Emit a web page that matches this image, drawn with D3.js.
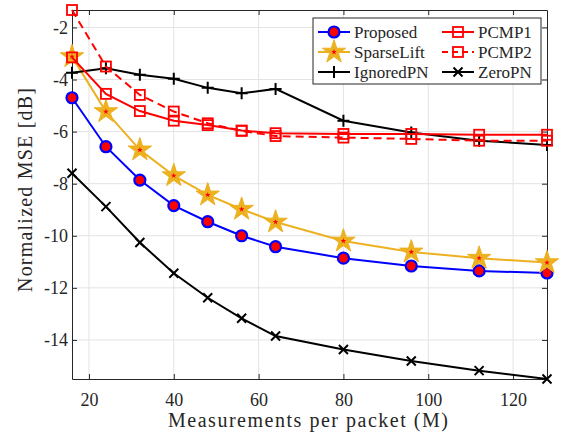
<!DOCTYPE html>
<html>
<head>
<meta charset="utf-8">
<script src="https://cdn.jsdelivr.net/npm/d3@7"></script>
<style>
  body { margin: 0; background: #fff; }
  text { font-family: "Liberation Serif", "DejaVu Serif", serif; fill: #262626; }
</style>
</head>
<body>
<div id="chart"></div>
<script>
// measurements per packet (M)
var mValues = [16, 24, 32, 40, 48, 56, 64, 80, 96, 112, 128];

// normalized MSE in dB
var proposed = [-4.7, -6.58, -7.86, -8.84, -9.46, -10.0, -10.42, -10.86, -11.16, -11.35, -11.43];
var sparseLift = [-3.12, -5.23, -6.7, -7.69, -8.43, -8.98, -9.47, -10.2, -10.62, -10.86, -11.03];
var ignoredPN = [-3.74, -3.57, -3.82, -3.97, -4.32, -4.53, -4.36, -5.58, -6.03, -6.35, -6.51];
var zeroPN = [-7.6, -8.88, -10.26, -11.44, -12.38, -13.17, -13.85, -14.37, -14.81, -15.18, -15.5];
var pcmp1 = [-3.15, -4.55, -5.21, -5.58, -5.75, -5.96, -6.06, -6.09, -6.09, -6.12, -6.12];
var pcmp2 = [-1.33, -3.5, -4.59, -5.23, -5.68, -5.97, -6.17, -6.23, -6.28, -6.35, -6.35];

var xTicks = [20, 40, 60, 80, 100, 120];
var yTicks = [-14, -12, -10, -8, -6, -4, -2];

var svgWidth = 561;
var svgHeight = 439;

var margin = { top: 10, right: 14, bottom: 60, left: 72 };
var width = svgWidth - margin.left - margin.right;
var height = svgHeight - margin.top - margin.bottom;

var svg = d3
  .select("#chart")
  .append("svg")
  .attr("width", svgWidth)
  .attr("height", svgHeight);

var chartGroup = svg
  .append("g")
  .attr("transform", `translate(${margin.left}, ${margin.top})`);

var xScale = d3.scaleLinear().domain([16, 128]).range([0, width]);
var yScale = d3.scaleLinear().domain([-15.5, -1.33]).range([height, 0]);

// grid lines
chartGroup
  .append("g")
  .selectAll("line.vgrid")
  .data(xTicks)
  .enter()
  .append("line")
  .attr("x1", (d) => xScale(d))
  .attr("x2", (d) => xScale(d))
  .attr("y1", 0)
  .attr("y2", height)
  .attr("stroke", "#e3e3e3")
  .attr("stroke-width", 1);

chartGroup
  .append("g")
  .selectAll("line.hgrid")
  .data(yTicks)
  .enter()
  .append("line")
  .attr("x1", 0)
  .attr("x2", width)
  .attr("y1", (d) => yScale(d))
  .attr("y2", (d) => yScale(d))
  .attr("stroke", "#e3e3e3")
  .attr("stroke-width", 1);

// axes (ticks pointing inward, box all round)
var plainFormat = (d) => String(d); // hyphen minus like the original
var bottomAxis = d3.axisBottom(xScale).tickValues(xTicks).tickFormat(plainFormat).tickSizeInner(-5).tickSizeOuter(0).tickPadding(14);
var topAxis = d3.axisTop(xScale).tickValues(xTicks).tickSizeInner(-5).tickSizeOuter(0).tickFormat("");
var leftAxis = d3.axisLeft(yScale).tickValues(yTicks).tickFormat(plainFormat).tickSizeInner(-5).tickSizeOuter(0).tickPadding(4);
var rightAxis = d3.axisRight(yScale).tickValues(yTicks).tickSizeInner(-5).tickSizeOuter(0).tickFormat("");

function styleAxis(g) {
  g.attr("font-family", '"Liberation Serif", serif').attr("font-size", 18);
  g.selectAll("path").attr("stroke", "#262626").attr("stroke-width", 1);
  g.selectAll("line").attr("stroke", "#262626").attr("stroke-width", 1);
  g.selectAll("text").attr("fill", "#262626");
}

chartGroup.append("g").attr("transform", `translate(0, ${height})`).call(bottomAxis).call(styleAxis);
chartGroup.append("g").call(topAxis).call(styleAxis);
chartGroup.append("g").call(leftAxis).call(styleAxis);
chartGroup.append("g").attr("transform", `translate(${width}, 0)`).call(rightAxis).call(styleAxis);

// axis labels (the original uses a wider LaTeX font, so stretch the spacing)
chartGroup
  .append("text")
  .attr("x", 236)
  .attr("y", height + 48)
  .attr("text-anchor", "middle")
  .attr("textLength", 280)
  .attr("lengthAdjust", "spacing")
  .style("font-size", "20px")
  .text("Measurements per packet (M)");

chartGroup
  .append("text")
  .attr("transform", "rotate(-90)")
  .attr("x", -180)
  .attr("y", -40)
  .attr("text-anchor", "middle")
  .attr("textLength", 204)
  .attr("lengthAdjust", "spacing")
  .style("font-size", "20px")
  .text("Normalized MSE [dB]");

var line = d3
  .line()
  .x((d) => xScale(d[0]))
  .y((d) => yScale(d[1]));

// marker shapes
var star = d3.symbol().type(d3.symbolStar);

function drawMarker(g, type, x, y) {
  if (type === "circle") {
    g.append("circle").attr("cx", x).attr("cy", y).attr("r", 5.5)
      .attr("fill", "#ff0000").attr("stroke", "#0000ff").attr("stroke-width", 2.2);
  } else if (type === "star") {
    g.append("path").attr("d", star.size(170)()).attr("transform", `translate(${x},${y})`)
      .attr("fill", "#edb120").attr("stroke", "#edb120").attr("stroke-width", 1);
    g.append("path").attr("d", star.size(10)()).attr("transform", `translate(${x},${y})`)
      .attr("fill", "#ff0000");
  } else if (type === "square") {
    g.append("rect").attr("x", x - 5).attr("y", y - 5).attr("width", 10).attr("height", 10)
      .attr("fill", "none").attr("stroke", "#ff0000").attr("stroke-width", 1.8);
  } else if (type === "plus") {
    g.append("path").attr("d", `M${x - 6},${y}H${x + 6}M${x},${y - 6}V${y + 6}`)
      .attr("stroke", "#000").attr("stroke-width", 2);
  } else if (type === "cross") {
    g.append("path").attr("d", `M${x - 4.5},${y - 4.5}L${x + 4.5},${y + 4.5}M${x - 4.5},${y + 4.5}L${x + 4.5},${y - 4.5}`)
      .attr("stroke", "#000").attr("stroke-width", 2);
  }
}

var series = [
  { name: "Proposed", values: proposed, color: "#0000ff", dash: null, marker: "circle" },
  { name: "SparseLift", values: sparseLift, color: "#edb120", dash: null, marker: "star" },
  { name: "IgnoredPN", values: ignoredPN, color: "#000000", dash: null, marker: "plus" },
  { name: "PCMP1", values: pcmp1, color: "#ff0000", dash: null, marker: "square" },
  { name: "PCMP2", values: pcmp2, color: "#ff0000", dash: "8,5", marker: "square" },
  { name: "ZeroPN", values: zeroPN, color: "#000000", dash: null, marker: "cross" },
];

// draw lines in MATLAB plot order
var drawOrder = [0, 1, 2, 5, 3, 4];
drawOrder.forEach(function (i) {
  var s = series[i];
  var pts = mValues.map((m, k) => [m, s.values[k]]);
  var g = chartGroup.append("g");
  g.append("path")
    .datum(pts)
    .attr("d", line)
    .attr("fill", "none")
    .attr("stroke", s.color)
    .attr("stroke-width", 2)
    .attr("stroke-dasharray", s.dash);
  pts.forEach(function (p) {
    drawMarker(g, s.marker, xScale(p[0]), yScale(p[1]));
  });
});

// legend
var legend = svg.append("g").attr("transform", "translate(313, 18)");
legend
  .append("rect")
  .attr("width", 228)
  .attr("height", 66)
  .attr("fill", "#fff")
  .attr("stroke", "#262626")
  .attr("stroke-width", 1);

var legendItems = [
  { s: series[0], col: 0, row: 0 },
  { s: series[1], col: 0, row: 1 },
  { s: series[2], col: 0, row: 2 },
  { s: series[3], col: 1, row: 0 },
  { s: series[4], col: 1, row: 1 },
  { s: series[5], col: 1, row: 2 },
];

legendItems.forEach(function (item) {
  var x0 = item.col === 0 ? 5 : 129;
  var y0 = 14 + item.row * 20;
  var g = legend.append("g");
  g.append("line")
    .attr("x1", x0)
    .attr("x2", x0 + 32)
    .attr("y1", y0)
    .attr("y2", y0)
    .attr("stroke", item.s.color)
    .attr("stroke-width", 2)
    .attr("stroke-dasharray", item.s.dash ? "6,4" : null);
  drawMarker(g, item.s.marker, x0 + 16, y0);
  g.append("text")
    .attr("x", x0 + 36)
    .attr("y", y0)
    .attr("dy", "0.35em")
    .style("font-size", "17px")
    .attr("fill", "#000")
    .text(item.s.name);
});
</script>
</body>
</html>
